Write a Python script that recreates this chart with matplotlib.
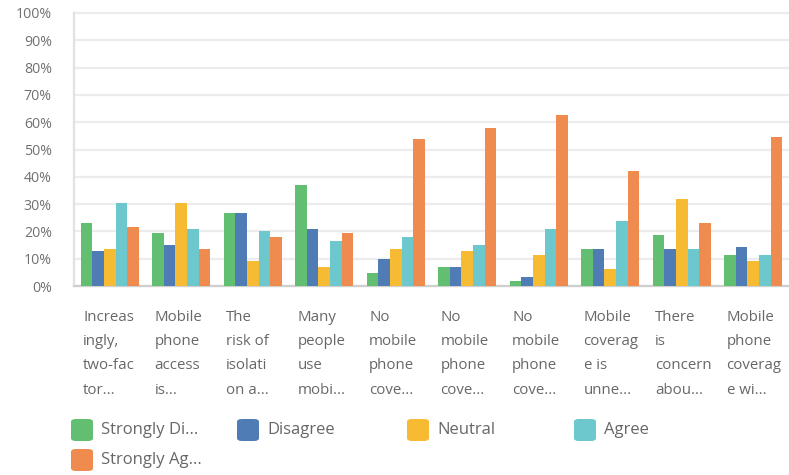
import numpy as np
import matplotlib.pyplot as plt
from matplotlib.patches import FancyBboxPatch

plt.rcParams['font.family'] = ['Open Sans', 'DejaVu Sans']

# answer categories, one label per question (wrapped as shown on the axis)
questions = [
    "Increas\ningly,\ntwo-fac\ntor...",
    "Mobile\nphone\naccess\nis...",
    "The\nrisk of\nisolati\non a...",
    "Many\npeople\nuse\nmobi...",
    "No\nmobile\nphone\ncove...",
    "No\nmobile\nphone\ncove...",
    "No\nmobile\nphone\ncove...",
    "Mobile\ncoverag\ne is\nunne...",
    "There\nis\nconcern\nabou...",
    "Mobile\nphone\ncoverag\ne wi...",
]

series_names = ["Strongly Di...", "Disagree", "Neutral", "Agree", "Strongly Ag..."]
series_colors = ["#62bf71", "#507cb6", "#f7ba33", "#6cc8cd", "#ef8b4e"]

# percentages per answer
strongly_disagree = [23.0, 19.3, 26.6, 36.9, 4.6, 7.0, 1.7, 13.4, 18.6, 11.2]
disagree = [12.8, 14.9, 26.6, 20.8, 9.9, 7.0, 3.2, 13.4, 13.6, 14.2]
neutral = [13.4, 30.3, 9.2, 6.8, 13.6, 12.7, 11.2, 6.1, 31.7, 9.0]
agree = [30.3, 20.8, 20.0, 16.4, 17.8, 15.0, 20.8, 23.7, 13.6, 11.2]
strongly_agree = [21.5, 13.4, 17.8, 19.3, 53.7, 58.0, 62.5, 42.0, 23.0, 54.5]

values = [strongly_disagree, disagree, neutral, agree, strongly_agree]

W, H = 789, 475
fig = plt.figure(figsize=(W / 100, H / 100), dpi=100)
ax = fig.add_axes([74 / W, 1 - 286 / H, 715 / W, 273 / H])

x = np.arange(len(questions))
bw = 0.161
for k, (vals, col) in enumerate(zip(values, series_colors)):
    ax.bar(x + (k - 2) * bw, vals, width=bw, color=col, zorder=3)

ax.set_xlim(-0.5, len(questions) - 0.5)
ax.set_ylim(0, 100)
ax.set_yticks(np.arange(0, 101, 10))
ax.set_yticklabels([f"{v}%" for v in range(0, 101, 10)])
ax.yaxis.grid(True, color="#ececec", linewidth=1.6, zorder=0)
for gl in ax.get_ygridlines():
    gl.set_clip_on(False)
ax.set_axisbelow(True)

ax.set_xticks(x - 2.5 * bw + 0.03)
ax.set_xticklabels(questions, ha="left", va="top", linespacing=1.85)
ax.tick_params(axis="x", length=0, pad=17, labelsize=10.8, labelcolor="#676767")
ax.tick_params(axis="y", length=0, pad=16, labelsize=10.2, labelcolor="#707070")

for s in ["top", "right"]:
    ax.spines[s].set_visible(False)
ax.spines["left"].set_color("#e2e2e2")
ax.spines["left"].set_linewidth(1.6)
ax.spines["bottom"].set_color("#cfcfcf")
ax.spines["bottom"].set_linewidth(1.6)

# legend, laid out in a 4-column grid
leg_x = [71, 237, 407, 574]
leg_y = [430, 460]
sq = 22
for k, (name, col) in enumerate(zip(series_names, series_colors)):
    px = leg_x[k % 4]
    py = leg_y[k // 4]
    box = FancyBboxPatch((px / W, (H - py - sq / 2) / H), sq / W, sq / H,
                         boxstyle="round,pad=0,rounding_size=0.006",
                         transform=fig.transFigure, facecolor=col,
                         edgecolor="none")
    fig.patches.append(box)
    fig.text((px + sq + 8) / W, 1 - py / H, name, ha="left", va="center",
             fontsize=12, color="#676767")

fig.savefig("out.png", dpi=100)
